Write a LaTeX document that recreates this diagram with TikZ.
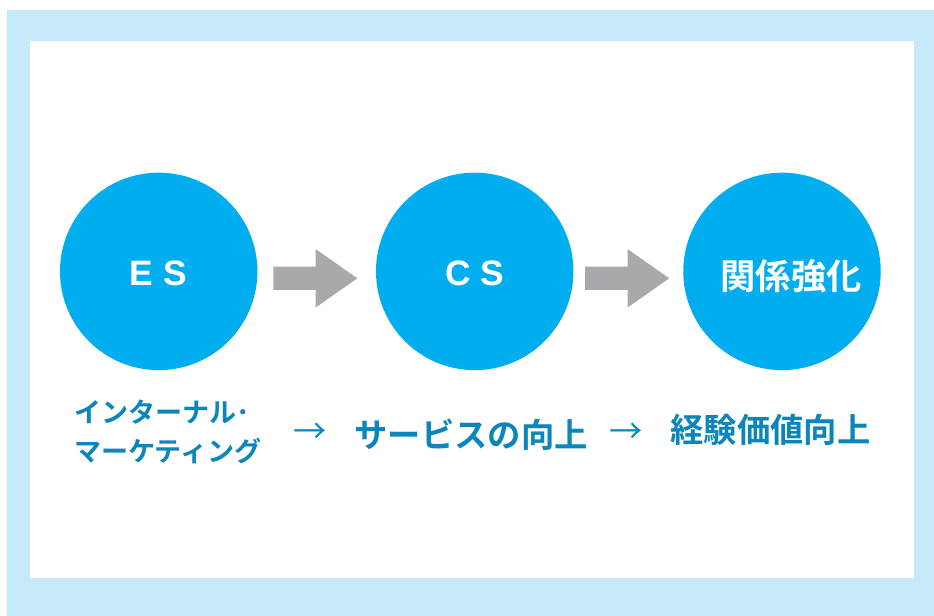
\documentclass[tikz,border=0pt]{standalone}
\usepackage{fontspec}
\setmainfont{Liberation Sans}
\newfontfamily\jp{Noto Sans CJK JP}[BoldFont={Noto Sans CJK JP Bold}]
\usetikzlibrary{calc}
\definecolor{bgblue}{RGB}{199,234,250}
\definecolor{circblue}{RGB}{0,174,239}
\definecolor{arrowgray}{RGB}{167,169,172}
\definecolor{txtblue}{RGB}{10,134,186}
\tikzset{
  circ/.style={circle,fill=circblue,draw=none,minimum size=148.1pt,inner sep=0pt},
  lattext/.style={text=white,font=\bfseries\fontsize{26.5pt}{30pt}\selectfont,inner sep=0pt},
  jptext/.style={text=white,font=\jp\bfseries\fontsize{26.5pt}{30pt}\selectfont,inner sep=0pt},
  lbl/.style={text=txtblue,font=\jp\bfseries\fontsize{25pt}{29pt}\selectfont,inner sep=0pt},
  lblsmall/.style={text=txtblue,font=\jp\bfseries\fontsize{20.3pt}{29.25pt}\selectfont,inner sep=0pt,align=left},
  thinarrow/.style={text=txtblue,font=\jp\fontsize{25pt}{28pt}\selectfont,inner sep=0pt},
  blockarrow/.pic={\fill[arrowgray] (-42,-11.65) -- (0.4,-11.65) -- (0.4,-29.2) -- (42,0) -- (0.4,29.2) -- (0.4,11.65) -- (-42,11.65) -- cycle;}
}
\begin{document}
\begin{tikzpicture}[x=0.75pt,y=-0.75pt]
\useasboundingbox (0,0) rectangle (934,616);
\fill[white] (0,0) rectangle (934,616);
\fill[bgblue] (7,10) rectangle (934,616);
\fill[white] (30,41) rectangle (914,578);
% circles
\node[circ] (es) at (158.7,271.4) {};
\node[circ] (cs) at (474.7,271.4) {};
\node[circ] (kk) at (782,271.4) {};
\node[lattext] (est) at (158.3,273) {E S};
\node[lattext] (cst) at (475,273) {C S};
\node[jptext] (kkt) at (791,276) {関係強化};
% block arrows
\coordinate (a1) at (315.3,278.3);
\coordinate (a2) at (627.2,278.3);
\pic at (a1) {blockarrow};
\pic at (a2) {blockarrow};
% labels
\node[lblsmall,anchor=west] (l1) at (74,432) {インターナル･\\マーケティング};
\node[thinarrow] (t1) at (310,433) {→};
\node[lbl] (l2) at (471,435) {サービスの向上};
\node[thinarrow] (t2) at (626,433) {→};
\node[lbl] (l3) at (770.5,430) {経験価値向上};
\end{tikzpicture}
\end{document}
